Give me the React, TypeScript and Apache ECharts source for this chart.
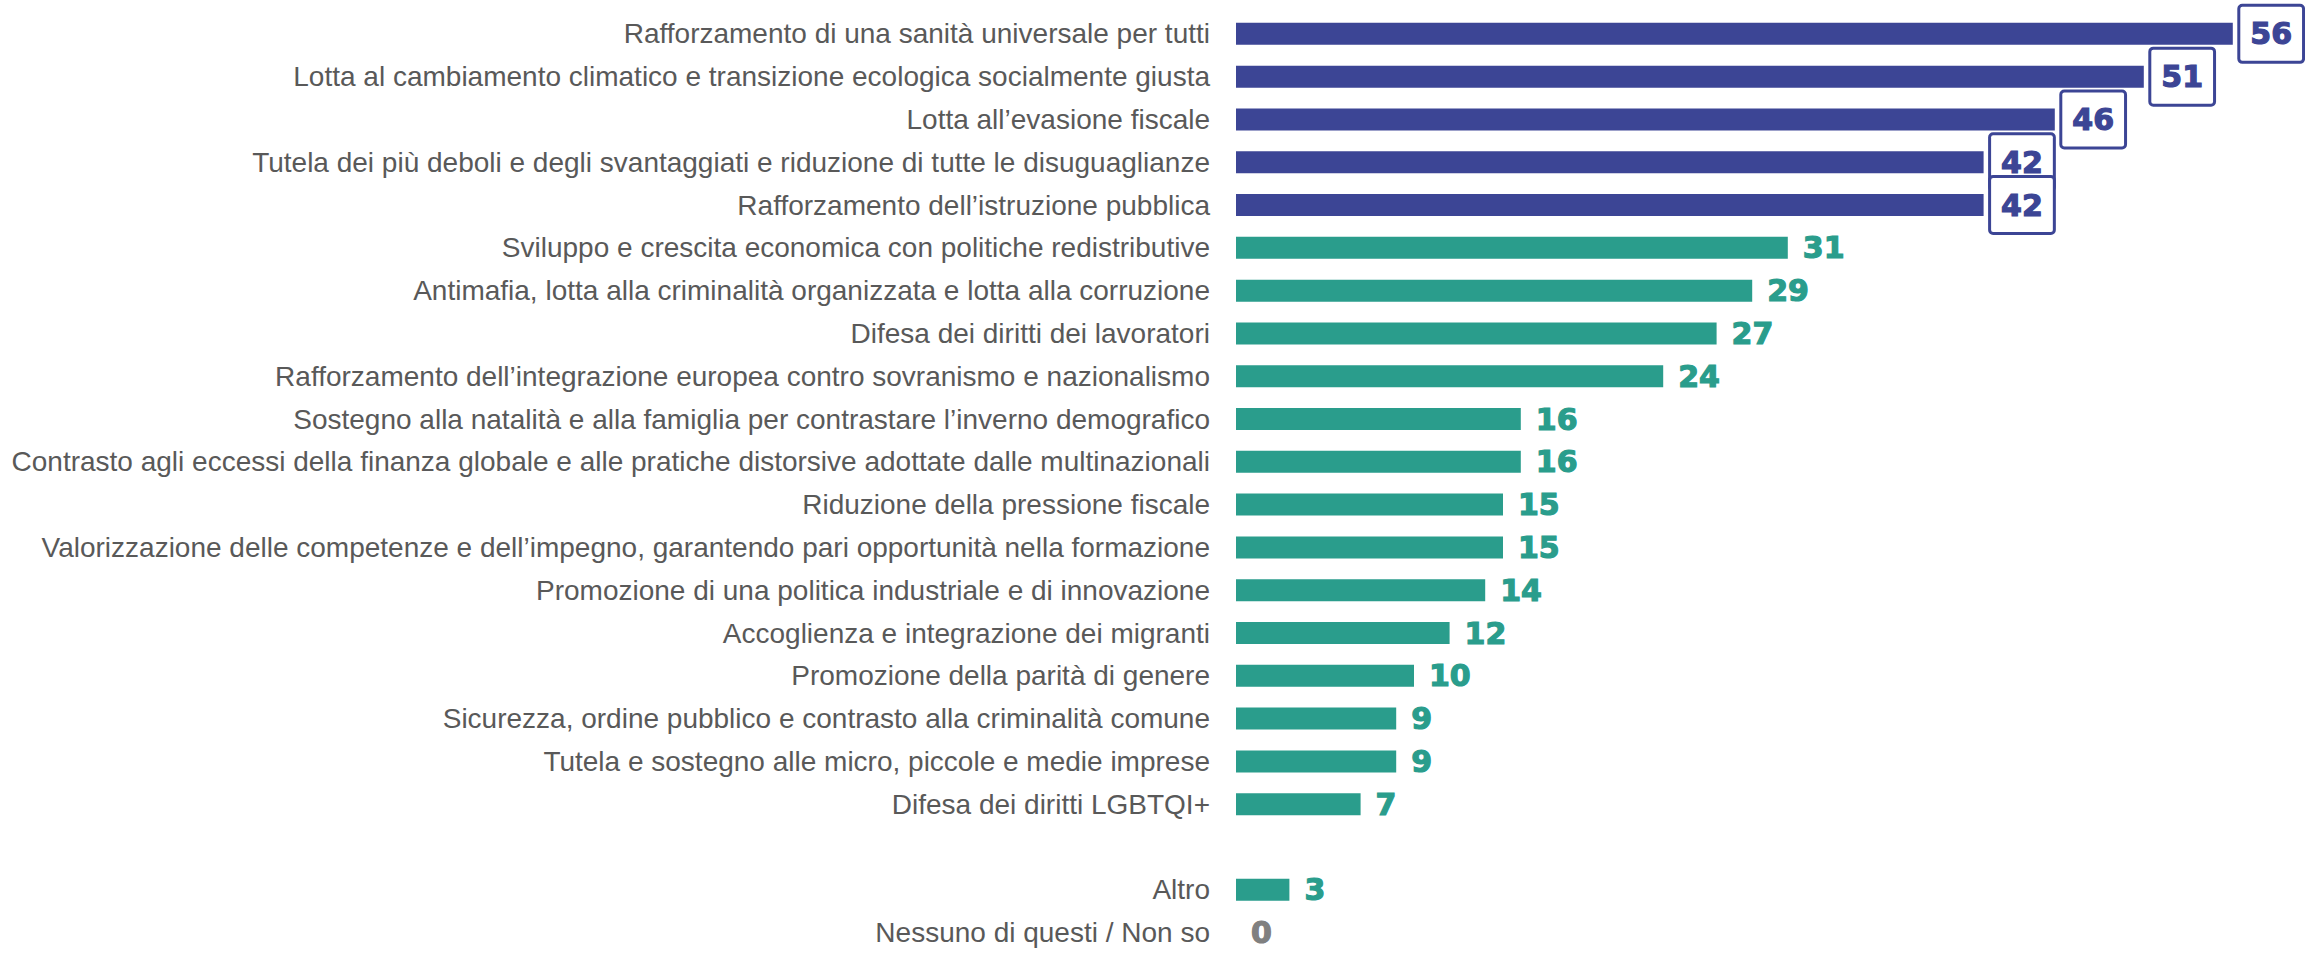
import React, { useEffect, useRef } from "react";
import * as echarts from "echarts";

const categories: string[] = [
  "Rafforzamento di una sanità universale per tutti",
  "Lotta al cambiamento climatico e transizione ecologica socialmente giusta",
  "Lotta all’evasione fiscale",
  "Tutela dei più deboli e degli svantaggiati e riduzione di tutte le disuguaglianze",
  "Rafforzamento dell’istruzione pubblica",
  "Sviluppo e crescita economica con politiche redistributive",
  "Antimafia, lotta alla criminalità organizzata e lotta alla corruzione",
  "Difesa dei diritti dei lavoratori",
  "Rafforzamento dell’integrazione europea contro sovranismo e nazionalismo",
  "Sostegno alla natalità e alla famiglia per contrastare l’inverno demografico",
  "Contrasto agli eccessi della finanza globale e alle pratiche distorsive adottate dalle multinazionali",
  "Riduzione della pressione fiscale",
  "Valorizzazione delle competenze e dell’impegno, garantendo pari opportunità nella formazione",
  "Promozione di una politica industriale e di innovazione",
  "Accoglienza e integrazione dei migranti",
  "Promozione della parità di genere",
  "Sicurezza, ordine pubblico e contrasto alla criminalità comune",
  "Tutela e sostegno alle micro, piccole e medie imprese",
  "Difesa dei diritti LGBTQI+",
  "",
  "Altro",
  "Nessuno di questi / Non so",
];

const values: (number | null)[] = [
  56, 51, 46, 42, 42, 31, 29, 27, 24, 16, 16, 15, 15, 14, 12, 10, 9, 9, 7, null, 3, 0,
];

// number of top items highlighted (blue, boxed labels)
const highlighted = 5;

const BLUE = "#3c4595";
const TEAL = "#2a9d8c";
const GREY = "#808080";
const LABEL_FONT = "'Liberation Sans Narrow', 'Arial Narrow', 'Liberation Sans', Arial, sans-serif";
const NUM_FONT = "'DejaVu Sans', 'Liberation Sans', Arial, sans-serif";

export default function App() {
  const ref = useRef<HTMLDivElement>(null);

  useEffect(() => {
    if (!ref.current) return;
    const chart = echarts.init(ref.current, undefined, { renderer: "svg" });

    const data = values.map((v, i) => {
      if (v === null) return { value: null };
      if (i < highlighted) {
        return {
          value: v,
          itemStyle: { color: BLUE },
          label: {
            show: true,
            position: "right",
            distance: 7.5,
            color: BLUE,
            fontFamily: NUM_FONT,
            fontWeight: "bold",
            fontSize: 30,
            lineHeight: 30,
            textBorderColor: BLUE,
            textBorderWidth: 1.2,
            backgroundColor: "#ffffff",
            borderColor: BLUE,
            borderWidth: 3,
            borderRadius: 2,
            padding: [12, 10, 12, 10],
          },
        };
      }
      const c = v === 0 ? GREY : TEAL;
      return {
        value: v,
        itemStyle: { color: TEAL },
        label: {
          show: true,
          position: "right",
          distance: 15,
          color: c,
          textBorderColor: c,
          textBorderWidth: 1.2,
          fontFamily: NUM_FONT,
          fontWeight: "bold",
          fontSize: 30,
        },
      };
    });

    chart.setOption({
      animation: false,
      backgroundColor: "#ffffff",
      grid: { left: 1236, right: 1, top: 12.45, height: 948, containLabel: false },
      xAxis: {
        type: "value",
        min: 0,
        max: 60,
        show: false,
      },
      yAxis: {
        type: "category",
        inverse: true,
        data: categories,
        axisLine: { show: false },
        axisTick: { show: false },
        splitLine: { show: false },
        axisLabel: {
          color: "#595959",
          fontFamily: LABEL_FONT,
          fontSize: 28,
          margin: 26,
          interval: 0,
        },
      },
      series: [
        {
          type: "bar",
          data,
          barWidth: 22,
          label: { show: true },
        },
      ],
    });

    return () => chart.dispose();
  }, []);

  return (
    <div
      ref={ref}
      style={{ position: "fixed", left: 0, top: 0, width: 2305, height: 954, background: "#fff" }}
    />
  );
}
